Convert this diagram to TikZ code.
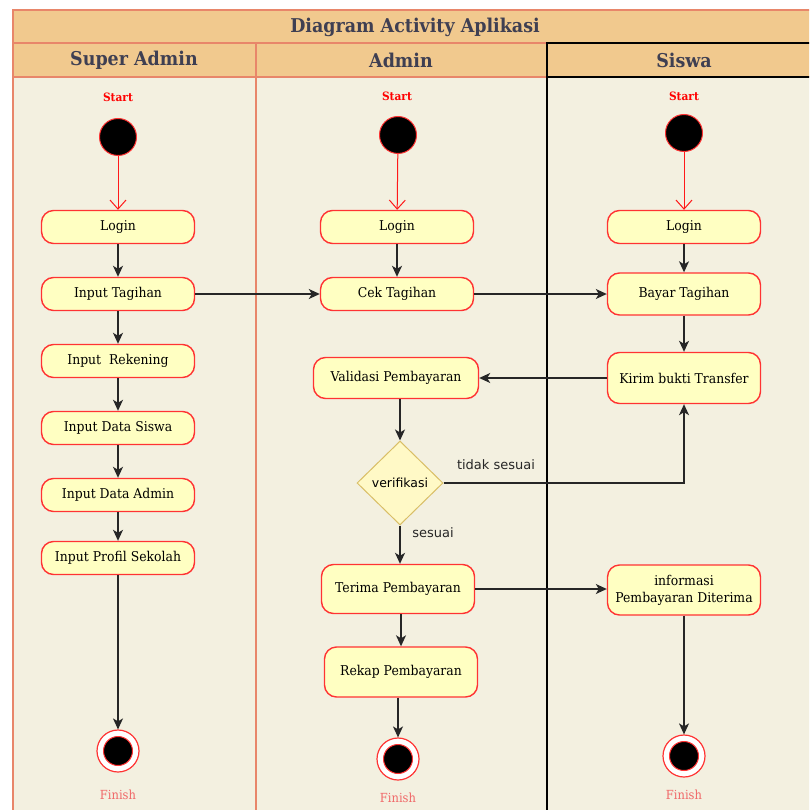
\documentclass[tikz,border=0pt]{standalone}
\usepackage{fontspec}
\setmainfont{DejaVu Serif}[FakeStretch=0.92]
\setsansfont{DejaVu Sans}
\usetikzlibrary{arrows.meta,shapes.geometric}
\definecolor{lanebg}{HTML}{F3F0E0}
\definecolor{headbg}{HTML}{F1C98E}
\definecolor{laneline}{HTML}{E8866A}
\definecolor{boxfill}{HTML}{FFFFC2}
\definecolor{boxline}{HTML}{FF3333}
\definecolor{diafill}{HTML}{FFF9C6}
\definecolor{dialine}{HTML}{D9BE66}
\definecolor{headtext}{HTML}{3F3F52}
\definecolor{finishtext}{HTML}{F06868}
\tikzset{
  act/.style={draw=boxline, line width=1.4pt, fill=boxfill, rounded corners=12pt,
    minimum width=153pt, minimum height=33pt, align=center, inner sep=2pt,
    font=\fontsize{13.5}{17}\selectfont},
  tall/.style={act, minimum height=43pt},
  startdot/.style={circle, draw=boxline, line width=1pt, fill=black, minimum size=37pt, inner sep=0pt},
  endring/.style={circle, draw=boxline, line width=1.2pt, fill=white, minimum size=42pt, inner sep=0pt},
  enddot/.style={circle, draw=boxline, line width=1pt, fill=black, minimum size=29pt, inner sep=0pt},
  starttxt/.style={text=red, font=\fontsize{11.5}{13}\selectfont\bfseries},
  fintxt/.style={text=finishtext, font=\fontsize{12.5}{14}\selectfont},
  arr/.style={draw=black!85, line width=1.4pt, -{Stealth[length=11pt,width=10pt,inset=3pt]}},
  redarr/.style={draw=red!90, line width=1pt, -{Straight Barb[length=9pt,width=16pt]}},
  dec/.style={diamond, draw=dialine, line width=1pt, fill=diafill, minimum width=86pt, minimum height=84pt,
    inner sep=0pt, font=\sffamily\fontsize{12.5}{15}\selectfont},
  lbl/.style={font=\sffamily\fontsize{13}{15}\selectfont, text=black!85},
  headtxt/.style={text=headtext, font=\fontsize{19}{22}\selectfont\bfseries},
}
\begin{document}
\begin{tikzpicture}[x=1pt,y=-1pt]
\useasboundingbox (0,0) rectangle (809,810);
\fill[white] (0,0) rectangle (809,810);
\begin{scope}
\clip (0,0) rectangle (809,810);
\fill[lanebg] (13,77) rectangle (840,840);
\fill[headbg] (13,10) rectangle (840,77);
\draw[laneline, line width=1.2pt] (13,840) -- (13,10) -- (840,10);
\draw[laneline, line width=1.2pt] (13,43) -- (547,43);
\draw[laneline, line width=1.2pt] (13,77) -- (547,77);
\draw[laneline, line width=1.2pt] (256,43) -- (256,840);
\draw[black, line width=1.4pt] (547,840) -- (547,43) -- (840,43);
\draw[black, line width=1.4pt] (547,77) -- (840,77);
\end{scope}
\node[headtxt] (title) at (415,27) {Diagram Activity Aplikasi};
\node[headtxt] (h1) at (134,60) {Super Admin};
\node[headtxt] (h2) at (401,60) {Admin};
\node[headtxt] (h3) at (684,60) {Siswa};

% Super Admin lane
\node[starttxt] (st1) at (118,97) {Start};
\node[startdot] (s1) at (118,137) {};
\node[act] (sa1) at (118,227) {Login};
\node[act] (sa2) at (118,294) {Input Tagihan};
\node[act] (sa3) at (118,361) {Input\ \ Rekening};
\node[act] (sa4) at (118,428) {Input Data Siswa};
\node[act] (sa5) at (118,495) {Input Data Admin};
\node[act] (sa6) at (118,558) {Input Profil Sekolah};
\node[endring] (e1) at (118,751) {};
\node[enddot] (e1i) at (118,751) {};
\node[fintxt] (ft1) at (118,795) {Finish};

% Admin lane
\node[starttxt] (st2) at (397,96) {Start};
\node[startdot] (s2) at (398,135) {};
\node[act] (ad1) at (397,227) {Login};
\node[act] (ad2) at (397,294) {Cek Tagihan};
\node[act, minimum width=165pt, minimum height=41pt] (ad3) at (396,378) {Validasi Pembayaran};
\node[dec] (dia) at (400,483) {verifikasi};
\node[tall, minimum height=49pt] (ad4) at (398,589) {Terima Pembayaran};
\node[tall, minimum height=50pt] (ad5) at (401,672) {Rekap Pembayaran};
\node[endring] (e2) at (398,759) {};
\node[enddot] (e2i) at (398,759) {};
\node[fintxt] (ft2) at (398,798) {Finish};

% Siswa lane
\node[starttxt] (st3) at (684,96) {Start};
\node[startdot] (s3) at (684,133) {};
\node[act] (si1) at (684,227) {Login};
\node[tall, minimum height=42pt] (si2) at (684,294) {Bayar Tagihan};
\node[tall, minimum height=51pt] (si3) at (684,378) {Kirim bukti Transfer};
\node[tall, minimum height=50pt] (si4) at (684,590) {informasi\\Pembayaran Diterima};
\node[endring] (e3) at (684,756) {};
\node[enddot] (e3i) at (684,756) {};
\node[fintxt] (ft3) at (684,795) {Finish};

% start arrows
\draw[redarr] (s1) -- (sa1);
\draw[redarr] (s2) -- (ad1);
\draw[redarr] (s3) -- (si1);

% Super Admin flow
\draw[arr] (sa1) -- (sa2);
\draw[arr] (sa2) -- (sa3);
\draw[arr] (sa3) -- (sa4);
\draw[arr] (sa4) -- (sa5);
\draw[arr] (sa5) -- (sa6);
\draw[arr] (sa6) -- (e1);

% cross-lane and admin flow
\draw[arr] (sa2) -- (ad2);
\draw[arr] (ad1) -- (ad2);
\draw[arr] (ad2) -- (si2);
\draw[arr] (si1) -- (si2);
\draw[arr] (si2) -- (si3);
\draw[arr] (si3) -- (ad3);
\draw[arr] (ad3.south -| dia.north) -- (dia.north);
\draw[arr] (dia.east) -| (si3.south);
\node[lbl] (l1) at (496,465) {tidak sesuai};
\draw[arr] (dia.south) -- (dia.south |- ad4.north);
\node[lbl] (l2) at (433,533) {sesuai};
\draw[arr] (ad4.east) -- (ad4.east -| si4.west);
\draw[arr] (ad4.south -| ad5.north) -- (ad5.north);
\draw[arr] (ad5.south -| e2.north) -- (e2.north);
\draw[arr] (si4) -- (e3);
\end{tikzpicture}
\end{document}
